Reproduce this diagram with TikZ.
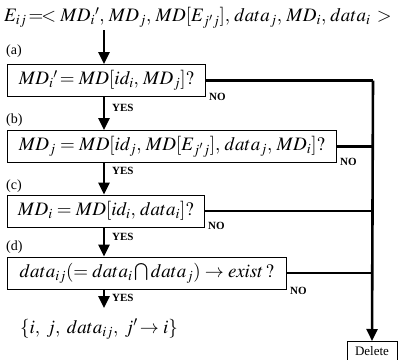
\documentclass[tikz,border=0pt]{standalone}
\usepackage{mathptmx}
\usepackage{fontspec}
\setmainfont{Liberation Serif}
\usetikzlibrary{arrows.meta}
\begin{document}
\begin{tikzpicture}[x=1pt,y=-1pt,
  big/.style={font=\fontsize{19}{22}\selectfont},
  cond/.style={draw,line width=0.8pt,anchor=west,inner sep=0pt,minimum height=32pt,big},
  lab/.style={font=\fontsize{14}{16}\selectfont,inner sep=0pt},
  yn/.style={font=\fontsize{11}{13}\selectfont\bfseries,inner sep=0pt},
  flow/.style={line width=2.6pt,-{Triangle[width=11pt,length=12pt]}},
  link/.style={line width=2.6pt}]
\useasboundingbox (0,0) rectangle (404,359);
\node[big,anchor=west,inner sep=0pt] (title) at (4,18) {$E_{ij}\!=\!<MD_i{}',\, MD_j,\, MD[E_{j'j}],\, data_j,\, MD_i,\, data_i\,>$};
\node[lab,anchor=west] (la) at (6,51) {(a)};
\node[cond,minimum width=198pt] (boxa) at (7,80.5) {$MD_i{}'\!= MD[id_i,\, MD_j]?$};
\node[lab,anchor=west] (lb) at (6,120) {(b)};
\node[cond,minimum width=329pt] (boxb) at (7,146.5) {$MD_j = MD[id_j,\, MD[E_{j'j}],\, data_j,\, MD_i]?$};
\node[lab,anchor=west] (lc) at (6,186) {(c)};
\node[cond,minimum width=197pt] (boxc) at (7,211) {$MD_i = MD[id_i,\, data_i]?$};
\node[lab,anchor=west] (ld) at (6,247) {(d)};
\node[cond,minimum width=279pt] (boxd) at (7,273) {$data_{ij}(= data_i \bigcap data_j)\rightarrow exist\,?$};
\node[big,anchor=west,inner sep=0pt] (result) at (20,329) {$\{i,\; j,\; data_{ij},\; j'\!\rightarrow i\}$};
\node[draw,line width=0.8pt,font=\fontsize{13}{15}\selectfont,minimum width=50pt,minimum height=19pt,inner sep=0pt,anchor=north] (del) at (372,341) {Delete};
% vertical flow
\coordinate (t0) at (104,30);
\draw[flow] (t0) -- (boxa.north -| t0);
\draw[flow] (boxa.south -| t0) -- (boxb.north -| t0);
\draw[flow] (boxb.south -| t0) -- (boxc.north -| t0);
\draw[flow] (boxc.south -| t0) -- (boxd.north -| t0);
\coordinate (r0) at (104,308);
\draw[flow] (boxd.south -| t0) -- (r0);
% YES labels
\node[yn,anchor=west] (ya) at (112,108) {YES};
\node[yn,anchor=west] (yb) at (112,171) {YES};
\node[yn,anchor=west] (yc) at (112,237) {YES};
\node[yn,anchor=west] (yd) at (112,298) {YES};
% NO branches
\coordinate (ja) at (373,80.5);
\coordinate (jb) at (373,146.5);
\coordinate (jc) at (373,211);
\coordinate (jd) at (373,273);
\draw[link] (boxa.east) -- (ja);
\draw[flow] (ja) -- (del.north);
\draw[link] (boxb.east) -- (jb);
\draw[link] (boxc.east) -- (jc);
\draw[link] (boxd.east) -- (jd);
\node[yn,anchor=west] (na) at (209,97) {NO};
\node[yn,anchor=west] (nb) at (340,162) {NO};
\node[yn,anchor=west] (nc) at (208,226) {NO};
\node[yn,anchor=west] (nd) at (290,291) {NO};
\end{tikzpicture}
\end{document}
